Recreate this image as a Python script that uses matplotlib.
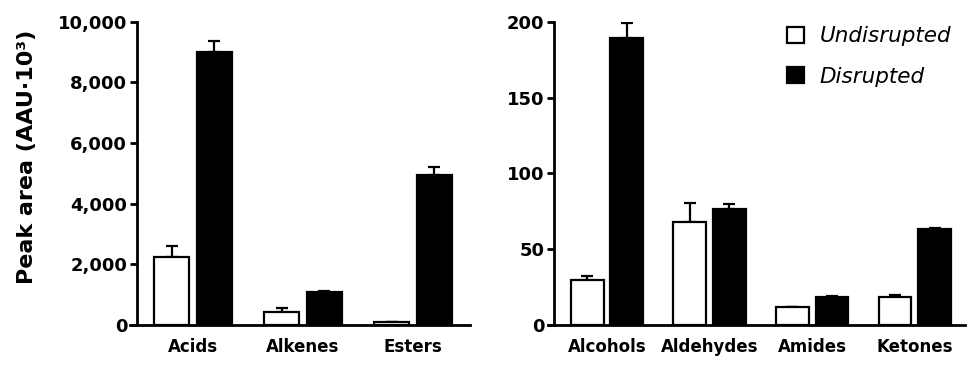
import matplotlib
matplotlib.use("Agg")
import matplotlib.pyplot as plt
import numpy as np
from matplotlib.patches import Patch

# Data
left_cats = ["Acids", "Alkenes", "Esters"]
left_undis = [2250, 420, 90]
left_undis_err = [370, 130, 10]
left_dis = [9000, 1100, 4950]
left_dis_err = [380, 20, 270]

right_cats = ["Alcohols", "Aldehydes", "Amides", "Ketones"]
right_undis = [30, 68, 11.6, 18.7]
right_undis_err = [2, 12.7, 0.4, 0.9]
right_dis = [189.5, 76.3, 18.7, 63]
right_dis_err = [9.5, 3.5, 0.2, 0.7]

left_yticks = [0, 2000, 4000, 6000, 8000, 10000]
left_yticklabels = ["0", "2,000", "4,000", "6,000", "8,000", "10,000"]
right_yticks = [0, 50, 100, 150, 200]
right_yticklabels = ["0", "50", "100", "150", "200"]

series_names = ["Undisrupted", "Disrupted"]

plt.rcParams['font.family'] = ['DejaVu Sans']

W, H = 968, 367
fig = plt.figure(figsize=(W / 100, H / 100), dpi=100)

def px_rect(x0, x1, ytop, ybot):
    return [x0 / W, 1 - ybot / H, (x1 - x0) / W, (ybot - ytop) / H]

ax1 = fig.add_axes(px_rect(130, 470, 21.7, 325))
ax2 = fig.add_axes(px_rect(548, 965, 21.7, 325))

bw = 0.32
off = 0.193
lw_spine = 2.0

def draw(ax, cats, und, und_e, dis, dis_e, ylim, yt, ytl, xlim, spine_x):
    x = np.arange(len(cats))
    for s in ['top', 'right']:
        ax.spines[s].set_visible(False)
    ax.spines['left'].set_position(('data', spine_x))
    ax.spines['left'].set_linewidth(lw_spine)
    ax.spines['bottom'].set_linewidth(lw_spine)
    # error bars (upper only)
    ax.errorbar(x - off, und, yerr=[np.zeros(len(und)), und_e], fmt='none',
                ecolor='black', elinewidth=1.6, capsize=4.2, capthick=1.6, zorder=1)
    ax.errorbar(x + off, dis, yerr=[np.zeros(len(dis)), dis_e], fmt='none',
                ecolor='black', elinewidth=1.6, capsize=4.2, capthick=1.6, zorder=1)
    ax.bar(x - off, und, width=bw, color='white', edgecolor='black', linewidth=1.6, zorder=2)
    ax.bar(x + off, dis, width=bw, color='black', edgecolor='black', linewidth=1.6, zorder=2)
    ax.set_xlim(*xlim)
    ax.set_ylim(*ylim)
    ax.set_yticks(yt)
    ax.set_yticklabels(ytl, fontsize=13, fontweight='bold')
    ax.set_xticks(x)
    ax.set_xticklabels(cats, fontsize=12, fontweight='bold')
    ax.tick_params(axis='x', length=0, pad=9)
    ax.tick_params(axis='y', length=5, width=lw_spine, pad=2)
    ax.set_facecolor('none')

draw(ax1, left_cats, left_undis, left_undis_err, left_dis, left_dis_err,
     (0, 10000), left_yticks, left_yticklabels, (-0.573, 2.518), -0.51)
draw(ax2, right_cats, right_undis, right_undis_err, right_dis, right_dis_err,
     (0, 200), right_yticks, right_yticklabels, (-0.575, 3.49), -0.517)

fig.text(27 / W, 1 - 157 / H, "Peak area (AAU·10³)", rotation=90, fontsize=16,
         fontweight='bold', ha='center', va='center')

handles = [Patch(facecolor='white', edgecolor='black', linewidth=1.6),
           Patch(facecolor='black', edgecolor='black', linewidth=1.6)]
leg = fig.legend(handles, series_names, loc='upper left',
                 bbox_to_anchor=(768 / W, 1 - 7 / H), frameon=False,
                 handlelength=0.75, handleheight=0.75, handletextpad=0.75,
                 labelspacing=0.95, prop={'style': 'italic', 'size': 15.5})

fig.savefig("out.png", dpi=100)
